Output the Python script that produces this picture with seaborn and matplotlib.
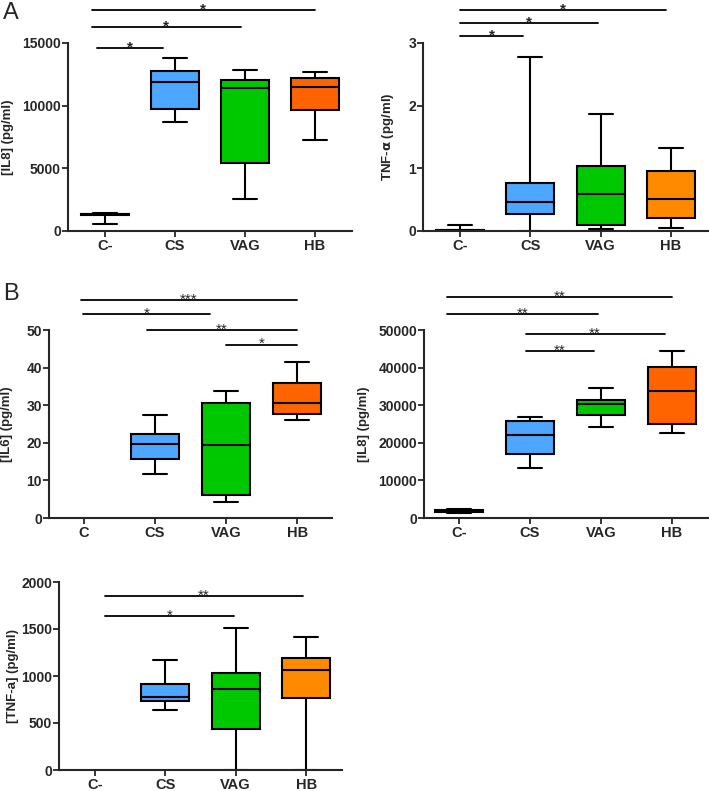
import numpy as np
import pandas as pd
import matplotlib
matplotlib.use("Agg")
import matplotlib.pyplot as plt
import seaborn as sns

# five-number summaries: min, q1, median, q3, max
groups_a = ["C-", "CS", "VAG", "HB"]
il8_a = [[560, 1280, 1320, 1380, 1470],
         [8670, 9730, 11870, 12750, 13810],
         [2530, 5410, 11410, 12030, 12880],
         [7280, 9680, 11470, 12210, 12670]]
tnf_a = [[0.0, 0.005, 0.01, 0.02, 0.10],
         [0.005, 0.27, 0.46, 0.76, 2.78],
         [0.027, 0.10, 0.59, 1.03, 1.865],
         [0.043, 0.20, 0.51, 0.965, 1.33]]

groups_b1 = ["C", "CS", "VAG", "HB"]
il6_b = [[],
         [11.6, 15.7, 19.6, 22.4, 27.4],
         [4.2, 6.1, 19.3, 30.7, 33.8],
         [26.0, 27.7, 30.7, 35.8, 41.5]]

groups_b2 = ["C-", "CS", "VAG", "HB"]
il8_b = [[1300, 1500, 1850, 2250, 2450],
         [13400, 17050, 22200, 25800, 26800],
         [24200, 27350, 30200, 31500, 34500],
         [22600, 25100, 33750, 40050, 44400]]

groups_c = ["C-", "CS", "VAG", "HB"]
tnf_c = [[],
         [637, 733, 779, 920, 1168],
         [0, 439, 867, 1027, 1515],
         [0, 768, 1069, 1189, 1416]]

# significance bars: (from, to, height, label)
sig_il8_a = [(-0.19, 3.0, 17630, "*"), (-0.19, 1.94, 16270, "*"), (-0.11, 0.83, 14610, "*")]
sig_tnf_a = [(0.0, 2.93, 3.53, "*"), (0.0, 1.96, 3.32, "*"), (0.0, 0.9, 3.106, "*")]
sig_il6_b = [(-0.04, 3.0, 58.0, "***"), (-0.01, 1.77, 54.3, "*"), (0.89, 3.0, 50.0, "**"), (2.0, 3.0, 46.1, "*")]
sig_il8_b = [(-0.17, 3.0, 58700, "**"), (-0.17, 1.96, 54300, "**"), (0.94, 2.9, 48900, "**"), (0.94, 1.9, 44400, "**")]
sig_tnf_c = [(0.14, 2.96, 1848, "**"), (0.14, 1.98, 1635, "*")]

blue = "#4da6ff"
green = "#00c800"
red_orange = "#ff6400"
orange = "#ff8a00"

sns.set_style("ticks")
plt.rcParams["font.family"] = ["Liberation Sans", "DejaVu Sans"]
plt.rcParams["font.weight"] = "bold"
plt.rcParams["axes.linewidth"] = 1.5
plt.rcParams["mathtext.default"] = "bf"

W, H = 709, 791
fig = plt.figure(figsize=(W / 100, H / 100), dpi=100)


def add_ax(left, right, top, bottom):
    return fig.add_axes([left / W, 1 - bottom / H, (right - left) / W, (bottom - top) / H])


def panel(ax, groups, values, hb_color, ylim, yticks, ylabel, sigs, xlim, label_x, star_weight):
    rows = []
    for g, v in zip(groups, values):
        for x in v:
            rows.append((g, x))
    df = pd.DataFrame(rows, columns=["group", "value"])
    pal = {groups[0]: "white", groups[1]: blue, groups[2]: green, groups[3]: hb_color}
    sns.boxplot(data=df, x="group", y="value", hue="group", order=groups,
                palette=pal, legend=False, whis=np.inf, width=0.68,
                linecolor="black", linewidth=1.5, saturation=1, ax=ax)
    ax.set_xlim(*xlim)
    ax.set_ylim(*ylim)
    ax.set_yticks(yticks)
    ax.set_yticklabels([str(t) for t in yticks])
    ax.set_xlabel("")
    ax.set_ylabel(ylabel, fontsize=9.5, fontweight="bold")
    ax.yaxis.set_label_coords(label_x, 0.5)
    sns.despine(ax=ax)
    ax.tick_params(axis="both", length=4, width=1.3, labelsize=10, pad=1.0)
    ax.tick_params(axis="x", labelsize=10.5, pad=1.5)
    for x1, x2, y, s in sigs:
        ax.plot([x1, x2], [y, y], color="black", lw=1.3, clip_on=False)
        ax.annotate(s, xy=((x1 + x2) / 2, y), xytext=(0, -2.5), textcoords="offset points",
                    ha="center", va="baseline", fontsize=11, fontweight=star_weight,
                    annotation_clip=False)


ax1 = add_ax(68, 352, 43, 231)
panel(ax1, groups_a, il8_a, red_orange, (0, 15000), [0, 5000, 10000, 15000],
      "[IL8] (pg/ml)", sig_il8_a, (-0.53, 3.53), -0.19, "bold")

ax2 = add_ax(423, 709, 43, 231)
panel(ax2, groups_a, tnf_a, orange, (0, 3), [0, 1, 2, 3],
      "TNF-$\\alpha$ (pg/ml)", sig_tnf_a, (-0.526, 3.54), -0.095, "bold")

ax3 = add_ax(49, 332, 330, 518)
panel(ax3, groups_b1, il6_b, red_orange, (0, 50), [0, 10, 20, 30, 40, 50],
      "[IL6] (pg/ml)", sig_il6_b, (-0.49, 3.49), -0.127, "normal")

ax4 = add_ax(424, 708, 330, 518)
panel(ax4, groups_b2, il8_b, red_orange, (0, 50000), [0, 10000, 20000, 30000, 40000, 50000],
      "[IL8] (pg/ml)", sig_il8_b, (-0.49, 3.51), -0.19, "normal")

ax5 = add_ax(59, 342, 582, 770)
panel(ax5, groups_c, tnf_c, orange, (0, 2000), [0, 500, 1000, 1500, 2000],
      "[TNF-a] (pg/ml)", sig_tnf_c, (-0.51, 3.51), -0.14, "normal")

fig.text(3 / W, 1 - 2 / H, "A", fontsize=17, fontweight="normal", ha="left", va="top")
fig.text(3 / W, 1 - 283 / H, "B", fontsize=17, fontweight="normal", ha="left", va="top")

fig.savefig("out.png", dpi=100)
